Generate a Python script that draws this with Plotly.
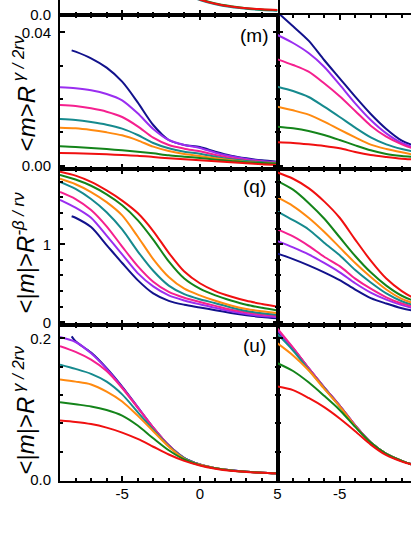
import plotly.graph_objects as go
from plotly.subplots import make_subplots

# x positions of the sampled points
x_left = [-9, -8, -7, -6, -5, -4, -3, -2, -1, 0, 1, 2, 3, 4, 5]
x_left_navy = [-8.25, -8, -7, -6, -5, -4, -3, -2, -1, 0, 1, 2, 3, 4, 5]
x_right = [-9, -8, -7, -6, -5, -4, -3, -2, -1, 0, 1]
x_strip = [-1, 0, 1, 2, 3, 4, 5]

series_names = ["navy", "purple", "pink", "teal", "orange", "green", "red"]
series_colors = ["#12128c", "#9a2ef0", "#f5208f", "#168a8e", "#ff8a10", "#14841a", "#f01010"]

# top strip (bottom edge of the panel above)
strip_teal = [0.086, 0.060, 0.043, 0.032, 0.025, 0.020, 0.017]
strip_green = [0.090, 0.064, 0.046, 0.035, 0.027, 0.022, 0.019]
strip_red = [0.088, 0.062, 0.045, 0.034, 0.027, 0.023, 0.020]

# (m) panel, left column  <m>R^(gamma/2r nu)
m_left = [
    [0.0346, 0.0342, 0.0322, 0.0294, 0.0252, 0.0190, 0.0122, 0.0077, 0.0062, 0.0056, 0.0042, 0.0030, 0.0022, 0.0016, 0.0012],
    [0.0235, 0.0232, 0.0226, 0.0215, 0.0196, 0.0157, 0.0110, 0.0077, 0.0062, 0.0053, 0.0039, 0.0028, 0.0020, 0.0014, 0.0010],
    [0.0182, 0.0179, 0.0172, 0.0162, 0.0146, 0.0118, 0.0084, 0.0062, 0.0051, 0.0043, 0.0032, 0.0023, 0.0016, 0.0012, 0.0009],
    [0.0140, 0.0137, 0.0131, 0.0123, 0.0111, 0.0092, 0.0068, 0.0052, 0.0042, 0.0036, 0.0027, 0.0019, 0.0014, 0.0010, 0.0008],
    [0.0114, 0.0112, 0.0107, 0.0100, 0.0091, 0.0076, 0.0057, 0.0044, 0.0035, 0.0029, 0.0022, 0.0016, 0.0011, 0.0008, 0.0006],
    [0.0058, 0.0056, 0.0053, 0.0050, 0.0046, 0.0042, 0.0037, 0.0031, 0.0027, 0.0023, 0.0018, 0.0014, 0.0010, 0.0008, 0.0006],
    [0.0038, 0.0037, 0.0036, 0.0034, 0.0032, 0.0030, 0.0026, 0.0022, 0.0019, 0.0016, 0.0013, 0.0010, 0.0007, 0.0004, 0.0002],
]

# (m) panel, right column
m_right = [
    [0.0460, 0.0418, 0.0375, 0.0317, 0.0262, 0.0207, 0.0155, 0.0110, 0.0075, 0.0057, 0.0045],
    [0.0392, 0.0368, 0.0338, 0.0297, 0.0243, 0.0187, 0.0137, 0.0097, 0.0068, 0.0052, 0.0042],
    [0.0319, 0.0302, 0.0282, 0.0247, 0.0208, 0.0164, 0.0120, 0.0087, 0.0064, 0.0048, 0.0039],
    [0.0237, 0.0224, 0.0206, 0.0177, 0.0146, 0.0114, 0.0085, 0.0064, 0.0050, 0.0040, 0.0033],
    [0.0177, 0.0166, 0.0153, 0.0132, 0.0108, 0.0085, 0.0063, 0.0050, 0.0040, 0.0031, 0.0026],
    [0.0117, 0.0112, 0.0104, 0.0092, 0.0077, 0.0061, 0.0046, 0.0035, 0.0029, 0.0025, 0.0021],
    [0.0070, 0.0068, 0.0064, 0.0059, 0.0052, 0.0041, 0.0032, 0.0026, 0.0021, 0.0018, 0.0015],
]

# (q) panel, left column  <|m|>R^(-beta/r nu)
q_left = [
    [1.36, 1.34, 1.22, 0.99, 0.76, 0.54, 0.37, 0.275, 0.225, 0.19, 0.155, 0.12, 0.09, 0.068, 0.051],
    [1.57, 1.47, 1.34, 1.11, 0.87, 0.63, 0.46, 0.345, 0.28, 0.23, 0.185, 0.14, 0.105, 0.08, 0.064],
    [1.67, 1.58, 1.44, 1.23, 0.97, 0.72, 0.52, 0.39, 0.315, 0.26, 0.21, 0.16, 0.125, 0.10, 0.081],
    [1.80, 1.71, 1.58, 1.41, 1.19, 0.91, 0.66, 0.47, 0.36, 0.295, 0.245, 0.19, 0.145, 0.115, 0.094],
    [1.84, 1.77, 1.67, 1.54, 1.37, 1.10, 0.81, 0.58, 0.43, 0.345, 0.275, 0.215, 0.17, 0.14, 0.115],
    [1.89, 1.83, 1.75, 1.64, 1.50, 1.31, 1.06, 0.78, 0.56, 0.43, 0.345, 0.28, 0.225, 0.185, 0.15],
    [1.93, 1.88, 1.80, 1.69, 1.56, 1.40, 1.17, 0.89, 0.65, 0.50, 0.40, 0.33, 0.275, 0.235, 0.20],
]

# (q) panel, right column
q_right = [
    [0.88, 0.81, 0.73, 0.64, 0.54, 0.42, 0.31, 0.24, 0.18, 0.14, 0.11],
    [1.04, 0.96, 0.87, 0.76, 0.64, 0.50, 0.38, 0.29, 0.22, 0.17, 0.14],
    [1.19, 1.10, 0.98, 0.84, 0.72, 0.56, 0.43, 0.32, 0.24, 0.19, 0.15],
    [1.42, 1.31, 1.19, 1.02, 0.86, 0.67, 0.51, 0.37, 0.27, 0.21, 0.17],
    [1.60, 1.49, 1.34, 1.16, 0.96, 0.76, 0.58, 0.42, 0.30, 0.23, 0.18],
    [1.81, 1.70, 1.53, 1.33, 1.09, 0.85, 0.64, 0.47, 0.34, 0.26, 0.21],
    [1.92, 1.84, 1.72, 1.55, 1.34, 1.06, 0.79, 0.56, 0.40, 0.29, 0.24],
]

# (u) panel, left column  <|m|>R^(gamma/2r nu)
u_left = [
    [0.203, 0.196, 0.180, 0.158, 0.132, 0.103, 0.074, 0.049, 0.031, 0.022, 0.0168, 0.0137, 0.0117, 0.0104, 0.0095],
    [0.202, 0.195, 0.179, 0.157, 0.131, 0.103, 0.074, 0.049, 0.031, 0.022, 0.0168, 0.0137, 0.0117, 0.0104, 0.0095],
    [0.189, 0.181, 0.170, 0.154, 0.130, 0.102, 0.074, 0.049, 0.031, 0.022, 0.0168, 0.0137, 0.0117, 0.0104, 0.0095],
    [0.163, 0.157, 0.150, 0.139, 0.121, 0.096, 0.071, 0.048, 0.031, 0.022, 0.0168, 0.0137, 0.0117, 0.0104, 0.0095],
    [0.142, 0.139, 0.135, 0.125, 0.111, 0.091, 0.069, 0.047, 0.030, 0.0215, 0.0167, 0.0136, 0.0116, 0.0103, 0.0094],
    [0.110, 0.107, 0.104, 0.099, 0.091, 0.077, 0.059, 0.042, 0.029, 0.021, 0.0166, 0.0135, 0.0115, 0.0102, 0.0094],
    [0.084, 0.082, 0.079, 0.074, 0.067, 0.058, 0.047, 0.036, 0.027, 0.0205, 0.0160, 0.0130, 0.0113, 0.0101, 0.0093],
]

# (u) panel, right column
u_right = [
    [0.210, 0.186, 0.158, 0.131, 0.105, 0.077, 0.053, 0.037, 0.027, 0.020, 0.016],
    [0.212, 0.186, 0.158, 0.131, 0.105, 0.077, 0.053, 0.037, 0.027, 0.020, 0.016],
    [0.214, 0.187, 0.158, 0.131, 0.105, 0.077, 0.053, 0.037, 0.027, 0.020, 0.016],
    [0.206, 0.183, 0.156, 0.130, 0.104, 0.076, 0.053, 0.037, 0.027, 0.020, 0.016],
    [0.193, 0.176, 0.155, 0.129, 0.104, 0.076, 0.053, 0.037, 0.027, 0.020, 0.016],
    [0.165, 0.154, 0.138, 0.119, 0.099, 0.075, 0.053, 0.037, 0.027, 0.020, 0.016],
    [0.132, 0.127, 0.116, 0.103, 0.087, 0.069, 0.050, 0.035, 0.026, 0.020, 0.016],
]

x_tickvals = [-5, 0, 5]
x_ticktext = ["-5", "0", "5"]

FONT = "Liberation Sans, Arial, sans-serif"

fig = make_subplots(rows=4, cols=2, horizontal_spacing=0, vertical_spacing=0)


def add_curves(xs_first, xs_rest, panel, row, col):
    for i, ys in enumerate(panel):
        xs = xs_first if i == 0 else xs_rest
        fig.add_trace(go.Scatter(
            x=xs, y=ys, mode="lines", name=series_names[i],
            line=dict(color=series_colors[i], width=2, shape="spline", smoothing=0.8),
            showlegend=False, hoverinfo="skip"
        ), row=row, col=col)


for ys, c in [(strip_teal, series_colors[3]), (strip_green, series_colors[5]), (strip_red, series_colors[6])]:
    fig.add_trace(go.Scatter(x=x_strip, y=ys, mode="lines",
                             line=dict(color=c, width=2, shape="spline"),
                             showlegend=False, hoverinfo="skip"), row=1, col=1)

add_curves(x_left_navy, x_left, m_left, 2, 1)
add_curves(x_right, x_right, m_right, 2, 2)
add_curves(x_left_navy, x_left, q_left, 3, 1)
add_curves(x_right, x_right, q_right, 3, 2)
add_curves(x_left_navy, x_left, u_left, 4, 1)
add_curves(x_right, x_right, u_right, 4, 2)

# pixel layout: plot area 355 x 481
row_domains = [[0.96881, 1.0], [0.64865, 0.96881], [0.32432, 0.64865], [0.0, 0.32432]]
col_domains = [[0.0, 0.61972], [0.61972, 1.0]]
col_ranges = [[-9, 5.0], [-9, -0.409]]
y_ranges = [[0, 0.06], [-0.001, 0.0452], [-0.035, 1.965], [-0.0014, 0.219]]
y_dticks = [0.1, 0.04, 1, 0.2]
y_minor = [None, 0.01, 0.2, 0.04]
y_formats = [".1f", ".2f", "d", ".1f"]

axis_common = dict(showline=True, linecolor="black", linewidth=2,
                   ticks="inside", ticklen=5, tickwidth=1.5, tickcolor="black",
                   showgrid=False, zeroline=False,
                   tickfont=dict(family=FONT, size=15, color="black"))

for r in range(4):
    for c in range(2):
        fig.update_xaxes(
            domain=col_domains[c], range=col_ranges[c],
            tickmode="array", tickvals=x_tickvals, ticktext=x_ticktext,
            minor=dict(dtick=1, tick0=0, ticks="inside", ticklen=3, tickwidth=1.5, tickcolor="black"),
            mirror=False if r == 0 else "ticks",
            showticklabels=(r == 3), ticklabelstandoff=-2,
            **axis_common, row=r + 1, col=c + 1)
        yminor = dict(ticks="") if y_minor[r] is None else dict(
            dtick=y_minor[r], tick0=0, ticks="inside", ticklen=3, tickwidth=1.5, tickcolor="black")
        fig.update_yaxes(
            domain=row_domains[r], range=y_ranges[r],
            dtick=y_dticks[r], tick0=0, tickformat=y_formats[r],
            minor=yminor,
            mirror="ticks" if c == 0 else False,
            showticklabels=(c == 0), ticklabelstandoff=4,
            **axis_common, row=r + 1, col=c + 1)

# y-axis titles and panel labels
title_font = dict(family=FONT, size=24, color="black")
y_titles = [
    ("&lt;<i>m</i>&gt;<i>R</i><sup><i> γ / 2rν</i></sup>", 0.8067),
    ("&lt;|<i>m</i>|&gt;<i>R</i><sup><i>-β / rν</i></sup>", 0.4761),
    ("&lt;|<i>m</i>|&gt;<i>R</i><sup><i> γ / 2rν</i></sup>", 0.1476),
]
for text, yc in y_titles:
    fig.add_annotation(text=text, xref="paper", yref="paper", x=-0.1014, y=yc,
                       xanchor="center", yanchor="middle", textangle=-90,
                       showarrow=False, font=title_font)

panel_labels = [("(m)", 0.9252), ("(q)", 0.6133), ("(u)", 0.2827)]
for text, yc in panel_labels:
    fig.add_annotation(text=text, xref="paper", yref="paper", x=0.554, y=yc,
                       xanchor="center", yanchor="middle", showarrow=False,
                       font=dict(family=FONT, size=19, color="black"))

fig.update_layout(
    width=415, height=537,
    margin=dict(l=60, r=0, t=0, b=56),
    paper_bgcolor="white", plot_bgcolor="white",
    showlegend=False,
)

# the page body has a default 8px margin; drop it so the figure sits at (0, 0)
fig.write_html("out.html", config={"displayModeBar": False},
               post_script="document.body.style.margin='0px';")
